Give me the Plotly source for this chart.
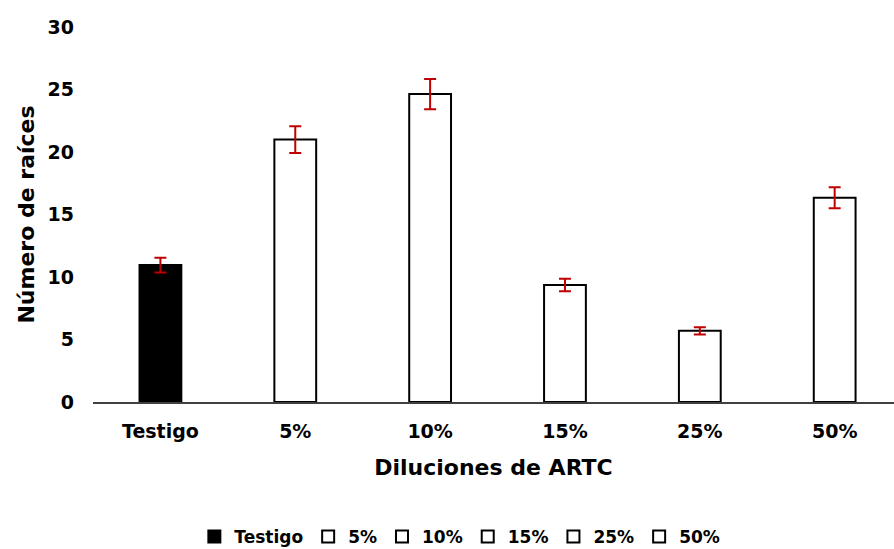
import plotly.graph_objects as go

# Root counts per ARTC dilution treatment
categorias = ["Testigo", "5%", "10%", "15%", "25%", "50%"]
num_raices = [10.96, 21.0, 24.64, 9.36, 5.7, 16.34]
error_std = [0.59, 1.07, 1.21, 0.5, 0.29, 0.84]
colores = ["black", "white", "white", "white", "white", "white"]

FONT = "DejaVu Sans, Liberation Sans, Arial, sans-serif"

fig = go.Figure()
for cat, val, err, col in zip(categorias, num_raices, error_std, colores):
    fig.add_trace(go.Bar(
        x=[cat], y=[val], name=cat,
        width=0.31,
        marker=dict(color=col, line=dict(color="black", width=2)),
        error_y=dict(type="data", array=[err], visible=True,
                     color="#C00000", thickness=2, width=6),
    ))

fig.update_layout(
    width=894, height=549,
    margin=dict(l=93, r=0, t=27, b=147, autoexpand=False),
    paper_bgcolor="white", plot_bgcolor="white",
    barmode="overlay",
    font=dict(family=FONT, color="black"),
    showlegend=True,
    legend=dict(orientation="h", x=0.458, xanchor="center", y=-0.36, yanchor="middle",
                font=dict(family=FONT, size=17, color="black", weight="bold"),
                itemwidth=30, traceorder="normal"),
    xaxis=dict(
        range=[-0.5, 5.44], automargin=False,
        showline=True, linecolor="#404040", linewidth=1.5,
        ticks="", showgrid=False, zeroline=False,
        tickfont=dict(family=FONT, size=19, color="black", weight="bold"),
        ticklabelstandoff=11,
        title=dict(text="<b>Diluciones de ARTC</b>", font=dict(family=FONT, size=22, color="black"),
                   standoff=19),
    ),
    yaxis=dict(
        range=[0, 30], dtick=5, automargin=False,
        showline=False, showgrid=False, zeroline=False, ticks="",
        tickfont=dict(family=FONT, size=19, color="black", weight="bold"),
        ticklabelstandoff=18,
        title=dict(text="<b>Número de raíces</b>", font=dict(family=FONT, size=22, color="black"),
                   standoff=6),
    ),
)

fig.write_html("out.html")
